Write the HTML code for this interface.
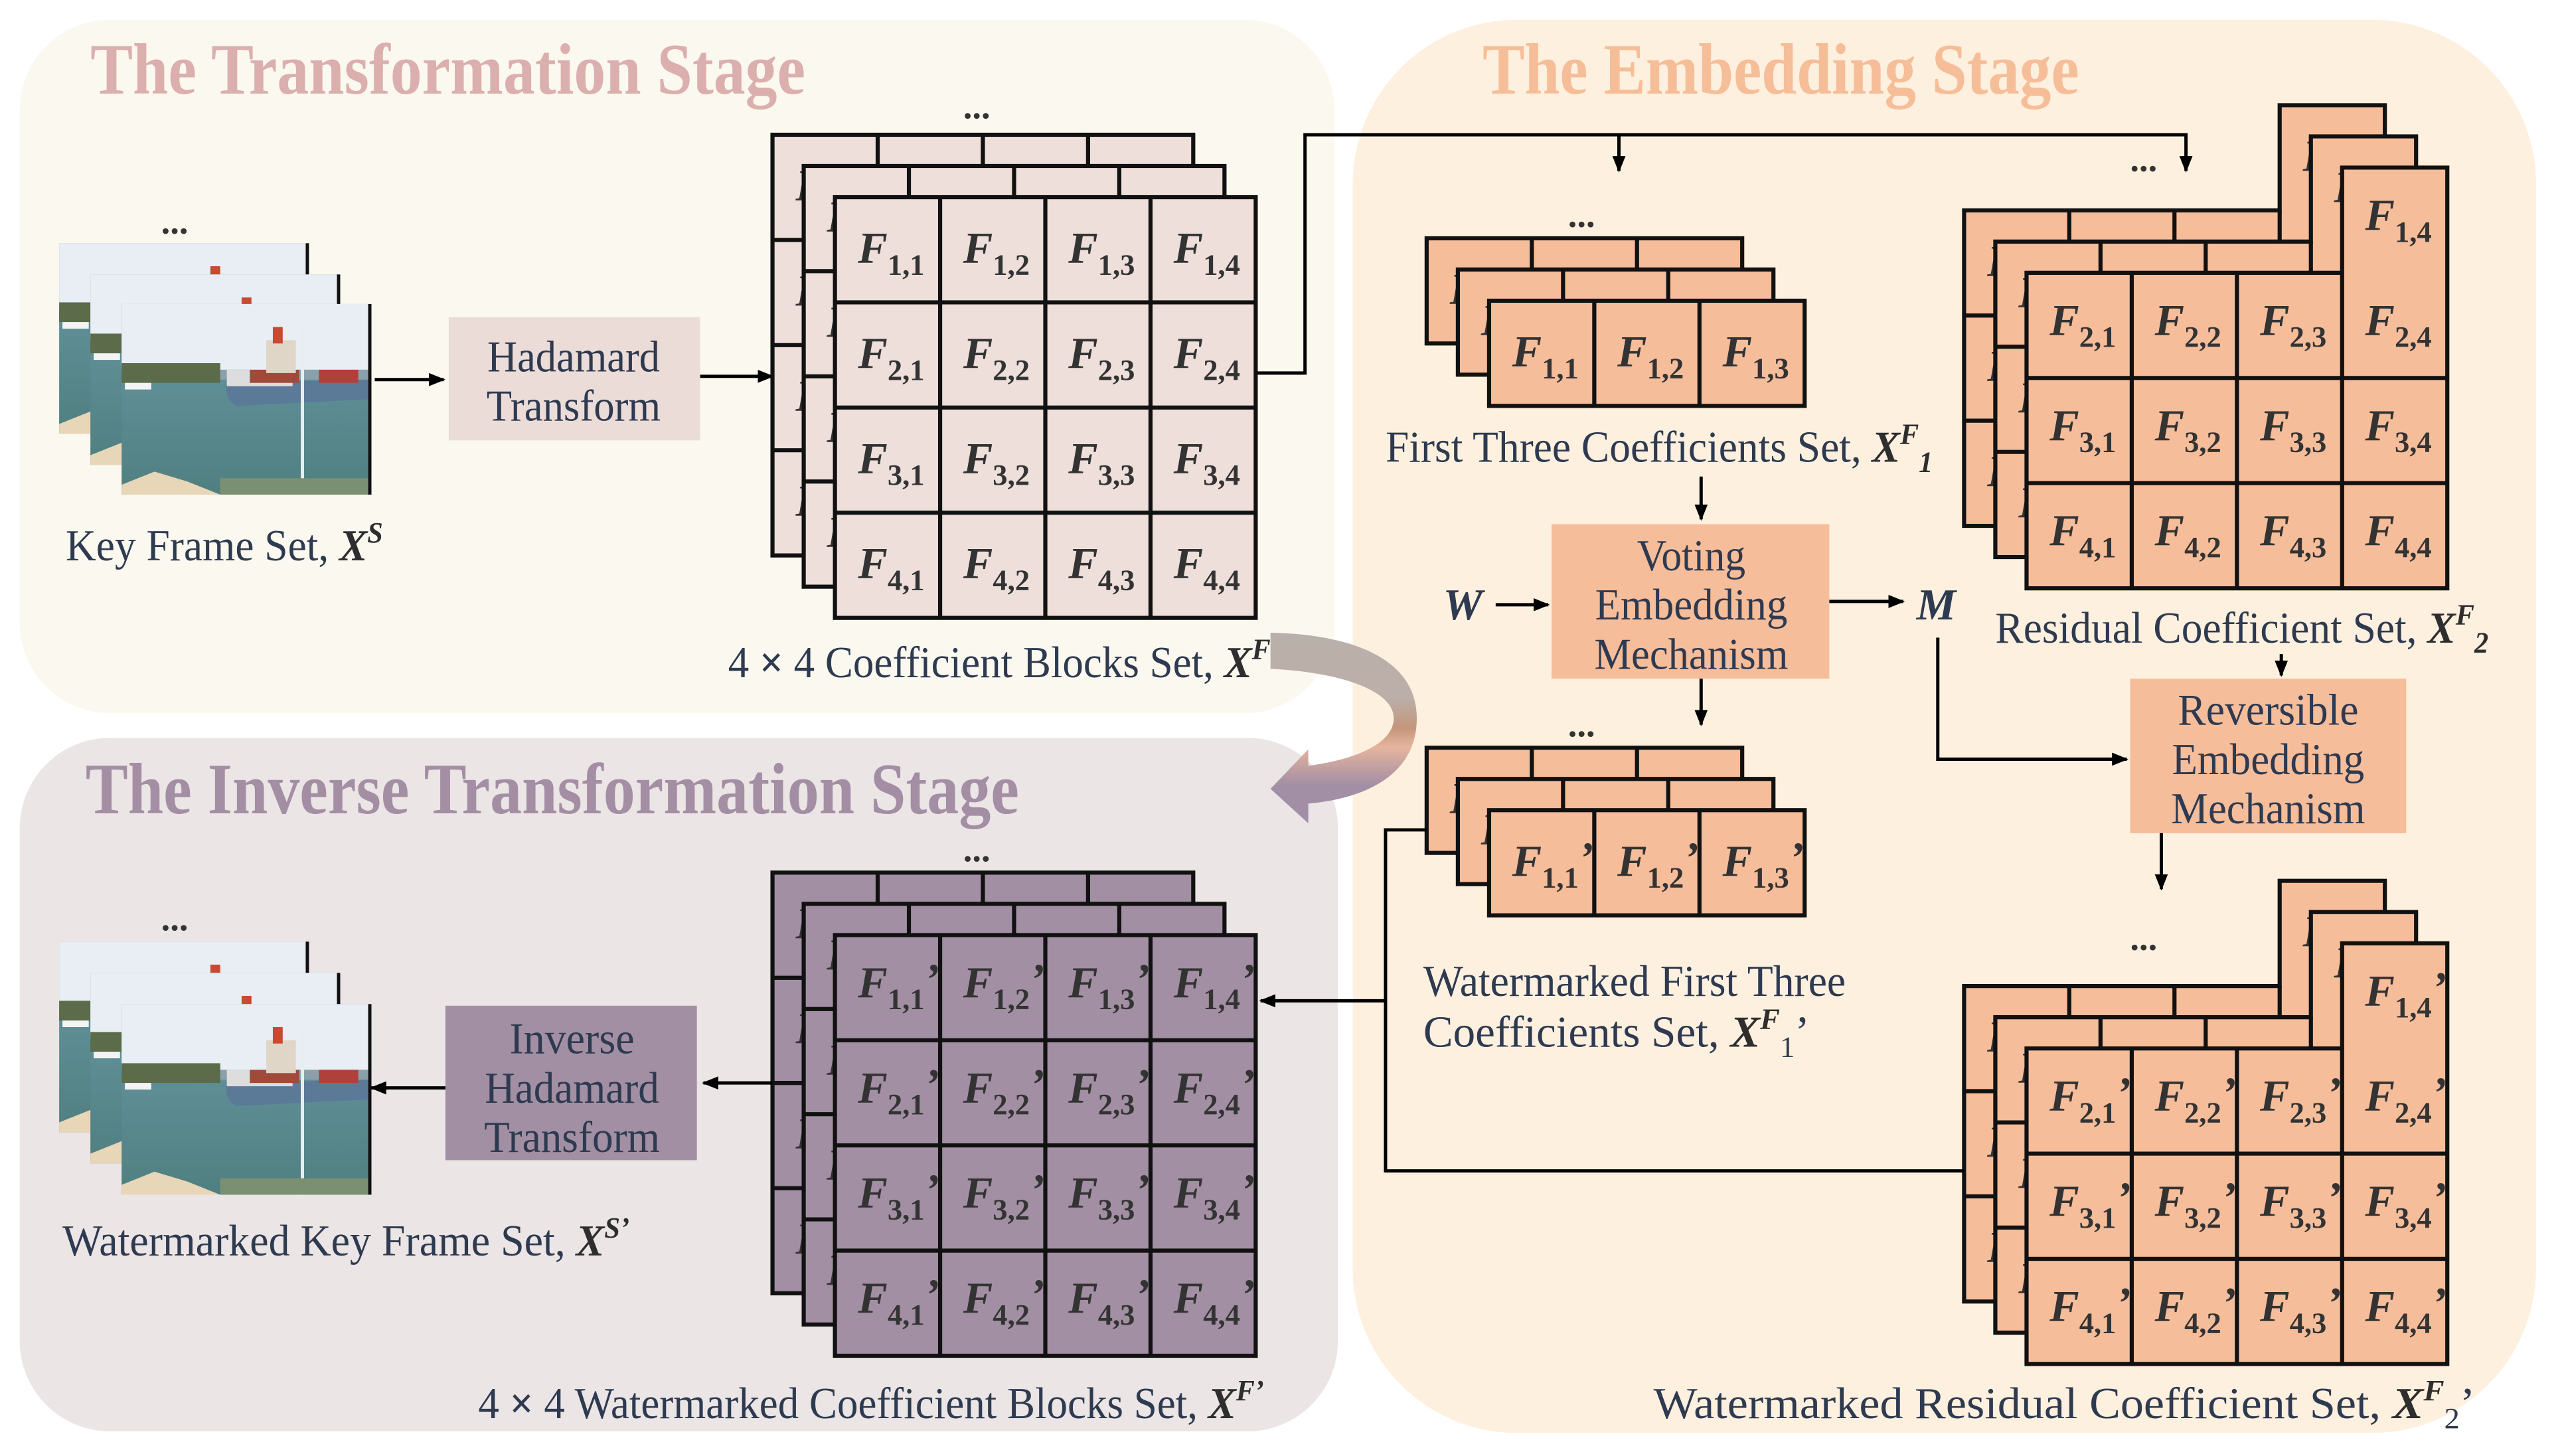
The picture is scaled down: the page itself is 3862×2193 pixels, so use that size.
<!DOCTYPE html>
<html><head><meta charset="utf-8"><style>
html,body{margin:0;padding:0;background:#fff}
svg{display:block}
.f{font-family:"Liberation Serif",serif;font-weight:bold;font-style:italic;font-size:27px;fill:#333}
.s{font-style:normal;font-size:18px}
.l{font-family:"Liberation Serif",serif;font-size:27px;fill:#2e3a50}
.b{font-family:"Liberation Serif",serif;font-size:27px;fill:#2e3a50;text-anchor:middle}
.m{font-weight:bold;font-style:italic;fill:#2e2e2e}
.t{font-family:"Liberation Serif",serif;font-weight:bold;font-size:44px}
.d{font-family:"Liberation Serif",serif;font-weight:bold;font-size:22px;fill:#333}
</style></head><body>
<svg width="3862" height="2193" viewBox="0 0 1560 886" preserveAspectRatio="none" xmlns="http://www.w3.org/2000/svg">
<defs>
<marker id="ah" markerWidth="10" markerHeight="10" refX="9" refY="5" orient="auto" markerUnits="userSpaceOnUse"><path d="M0,1 L10,5 L0,9 z" fill="#000"/></marker>
<linearGradient id="cg" x1="0" y1="385" x2="0" y2="501" gradientUnits="userSpaceOnUse">
<stop offset="0" stop-color="#bab0ab"/><stop offset="0.35" stop-color="#bcaea8"/><stop offset="0.5" stop-color="#c4967a"/><stop offset="0.6" stop-color="#e6b49e"/><stop offset="0.8" stop-color="#a38fa5"/><stop offset="1" stop-color="#a08fa6"/></linearGradient>
<linearGradient id="wat" x1="0" y1="0" x2="0" y2="1"><stop offset="0" stop-color="#6a9aa5"/><stop offset="1" stop-color="#4f7f80"/></linearGradient>
<g id="g4" stroke="#111" stroke-width="2.5"><rect x="0" y="0" width="256" height="256"/><path d="M64 0V256M128 0V256M192 0V256M0 64H256M0 128H256M0 192H256" fill="none"/></g>
<g id="g3" stroke="#111" stroke-width="2.5"><rect x="0" y="0" width="192" height="64"/><path d="M64 0V64M128 0V64" fill="none"/></g>
<g id="gR" stroke="#111" stroke-width="2.5"><path d="M192 0H256V256H0V64H192Z"/><path d="M64 64V256M128 64V256M192 64V256M0 128H256M0 192H256" fill="none"/></g>
<g id="ph">
<rect x="0" y="0" width="150" height="116" fill="url(#wat)"/>
<rect x="0" y="0" width="150" height="40" fill="#e8eef4"/>
<rect x="0" y="36" width="60" height="12" fill="#5c6b4a"/>
<rect x="60" y="40" width="90" height="6" fill="#8aa0aa"/>
<path d="M64 48 L150 46 L150 58 L70 62 Q62 58 64 48Z" fill="#5a7a98"/>
<rect x="64" y="40" width="40" height="10" fill="#ddd"/>
<rect x="78" y="40" width="30" height="8" fill="#a04a3a"/>
<rect x="120" y="40" width="24" height="8" fill="#b0403a"/>
<rect x="88" y="22" width="18" height="20" fill="#e0d6c8"/>
<rect x="92" y="14" width="6" height="10" fill="#c84a30"/>
<rect x="2" y="48" width="16" height="4" fill="#f4f4f4"/>
<rect x="109" y="14" width="2" height="102" fill="#e8eef0"/>
<path d="M0 110 L20 102 L40 108 L60 116 L0 116Z" fill="#e8d6b8"/>
<rect x="60" y="106" width="90" height="10" fill="#7a9070"/>
<rect x="150" y="0" width="2" height="116" fill="#111"/>
</g>
</defs>

<rect x="12" y="12" width="800" height="422" rx="55" fill="#fbf8ef"/>
<rect x="823" y="12" width="720" height="860" rx="100" fill="#fef0df"/>
<rect x="12" y="449" width="802" height="422" rx="55" fill="#ebe5e5"/>

<text class="t" x="55" y="57" fill="#dbafae" textLength="435" lengthAdjust="spacingAndGlyphs">The Transformation Stage</text>
<text class="t" x="902" y="57" fill="#f6be98" textLength="363" lengthAdjust="spacingAndGlyphs">The Embedding Stage</text>
<text class="t" x="52" y="495" fill="#a38ea4" textLength="568" lengthAdjust="spacingAndGlyphs">The Inverse Transformation Stage</text>

<path d="M773,385 C825,386 862,402 862,437 C862,472 830,486 796,489 L796,501 L773,480 L796,456 L796,466 C826,462 848,452 848,437 C848,420 815,409 773,407 Z" fill="url(#cg)"/>

<text class="d" x="98" y="142">...</text>
<use href="#ph" x="36" y="148"/><use href="#ph" x="55" y="167"/><use href="#ph" x="74" y="185"/>
<text class="l" x="40" y="341" textLength="193" lengthAdjust="spacingAndGlyphs">Key Frame Set, <tspan class="m">X</tspan><tspan class="m" font-size="18" dy="-11">S</tspan></text>

<rect x="273" y="193" width="153" height="75" fill="#ecdcd8"/>
<text class="b" x="349" y="226" textLength="105" lengthAdjust="spacingAndGlyphs">Hadamard</text><text class="b" x="349" y="256" textLength="106" lengthAdjust="spacingAndGlyphs">Transform</text>
<path d="M228 231H270" stroke="#000" stroke-width="2" marker-end="url(#ah)"/>
<path d="M426 229H470" stroke="#000" stroke-width="2" marker-end="url(#ah)"/>

<text class="d" x="586" y="72">...</text>
<use href="#g4" x="470" y="82" fill="#eedfdb"/>
<g class="f"><text x="484" y="122">F</text><text x="548" y="122">F</text><text x="612" y="122">F</text><text x="676" y="122">F</text><text x="484" y="186">F</text><text x="484" y="250">F</text><text x="484" y="314">F</text></g>
<use href="#g4" x="489" y="101" fill="#eedfdb"/>
<g class="f"><text x="503" y="141">F</text><text x="567" y="141">F</text><text x="631" y="141">F</text><text x="695" y="141">F</text><text x="503" y="205">F</text><text x="503" y="269">F</text><text x="503" y="333">F</text></g>
<use href="#g4" x="508" y="120" fill="#eedfdb"/>
<g class="f">
<text x="522" y="160">F<tspan class="s" dy="7">1,1</tspan></text><text x="586" y="160">F<tspan class="s" dy="7">1,2</tspan></text><text x="650" y="160">F<tspan class="s" dy="7">1,3</tspan></text><text x="714" y="160">F<tspan class="s" dy="7">1,4</tspan></text>
<text x="522" y="224">F<tspan class="s" dy="7">2,1</tspan></text><text x="586" y="224">F<tspan class="s" dy="7">2,2</tspan></text><text x="650" y="224">F<tspan class="s" dy="7">2,3</tspan></text><text x="714" y="224">F<tspan class="s" dy="7">2,4</tspan></text>
<text x="522" y="288">F<tspan class="s" dy="7">3,1</tspan></text><text x="586" y="288">F<tspan class="s" dy="7">3,2</tspan></text><text x="650" y="288">F<tspan class="s" dy="7">3,3</tspan></text><text x="714" y="288">F<tspan class="s" dy="7">3,4</tspan></text>
<text x="522" y="352">F<tspan class="s" dy="7">4,1</tspan></text><text x="586" y="352">F<tspan class="s" dy="7">4,2</tspan></text><text x="650" y="352">F<tspan class="s" dy="7">4,3</tspan></text><text x="714" y="352">F<tspan class="s" dy="7">4,4</tspan></text>
</g>
<text class="l" x="443" y="412" textLength="330" lengthAdjust="spacingAndGlyphs">4 <tspan font-weight="bold">×</tspan> 4 Coefficient Blocks Set, <tspan class="m">X</tspan><tspan class="m" font-size="18" dy="-11">F</tspan></text>

<path d="M765 227H794V82H1330V104" fill="none" stroke="#000" stroke-width="2" marker-end="url(#ah)"/>
<path d="M985 82V104" fill="none" stroke="#000" stroke-width="2" marker-end="url(#ah)"/>

<text class="d" x="954" y="138">...</text>
<use href="#g3" x="868" y="145" fill="#f6bd9a"/>
<g class="f"><text x="882" y="185">F</text><text x="946" y="185">F</text><text x="1010" y="185">F</text></g>
<use href="#g3" x="887" y="164" fill="#f6bd9a"/>
<g class="f"><text x="901" y="204">F</text><text x="965" y="204">F</text><text x="1029" y="204">F</text></g>
<use href="#g3" x="906" y="183" fill="#f6bd9a"/>
<g class="f"><text x="920" y="223">F<tspan class="s" dy="7">1,1</tspan></text><text x="984" y="223">F<tspan class="s" dy="7">1,2</tspan></text><text x="1048" y="223">F<tspan class="s" dy="7">1,3</tspan></text></g>
<text class="l" x="843" y="281" textLength="333" lengthAdjust="spacingAndGlyphs">First Three Coefficients Set, <tspan class="m">X</tspan><tspan class="m" font-size="18" dy="-11">F</tspan><tspan class="m" font-size="18" dy="17">1</tspan></text>

<path d="M1035 290V316" stroke="#000" stroke-width="2" marker-end="url(#ah)"/>
<rect x="944" y="319" width="169" height="94" fill="#f6bd9a"/>
<text class="b" x="1029" y="347" textLength="66" lengthAdjust="spacingAndGlyphs">Voting</text><text class="b" x="1029" y="377" textLength="117" lengthAdjust="spacingAndGlyphs">Embedding</text><text class="b" x="1029" y="407" textLength="118" lengthAdjust="spacingAndGlyphs">Mechanism</text>
<text class="l m" x="878" y="377" style="fill:#2e3a50">W</text>
<path d="M910 368H942" stroke="#000" stroke-width="2" marker-end="url(#ah)"/>
<path d="M1113 366H1158" stroke="#000" stroke-width="2" marker-end="url(#ah)"/>
<text class="l m" x="1166" y="377" style="fill:#2e3a50">M</text>
<path d="M1035 413V441" stroke="#000" stroke-width="2" marker-end="url(#ah)"/>
<path d="M1179 388V462H1294" fill="none" stroke="#000" stroke-width="2" marker-end="url(#ah)"/>

<text class="d" x="954" y="448">...</text>
<use href="#g3" x="868" y="455" fill="#f6bd9a"/>
<g class="f"><text x="882" y="495">F ’</text><text x="946" y="495">F ’</text><text x="1010" y="495">F ’</text></g>
<use href="#g3" x="887" y="474" fill="#f6bd9a"/>
<g class="f"><text x="901" y="514">F ’</text><text x="965" y="514">F ’</text><text x="1029" y="514">F ’</text></g>
<use href="#g3" x="906" y="493" fill="#f6bd9a"/>
<g class="f"><text x="920" y="533">F<tspan class="s" dy="7">1,1</tspan><tspan dy="-9">’</tspan></text><text x="984" y="533">F<tspan class="s" dy="7">1,2</tspan><tspan dy="-9">’</tspan></text><text x="1048" y="533">F<tspan class="s" dy="7">1,3</tspan><tspan dy="-9">’</tspan></text></g>
<text class="l" x="866" y="606" textLength="257" lengthAdjust="spacingAndGlyphs">Watermarked First Three</text>
<text class="l" x="866" y="637" textLength="235" lengthAdjust="spacingAndGlyphs">Coefficients Set, <tspan class="m">X</tspan><tspan class="m" font-size="18" dy="-11">F</tspan><tspan font-size="18" dy="17">1</tspan><tspan dy="-6">’</tspan></text>

<text class="d" x="1296" y="104">...</text>
<use href="#gR" x="1195" y="64" fill="#f6bd9a"/>
<g class="f"><text x="1401" y="104">F</text><text x="1209" y="168">F</text><text x="1273" y="168">F</text><text x="1337" y="168">F</text><text x="1209" y="232">F</text><text x="1209" y="296">F</text></g>
<use href="#gR" x="1214" y="83" fill="#f6bd9a"/>
<g class="f"><text x="1420" y="123">F</text><text x="1228" y="187">F</text><text x="1292" y="187">F</text><text x="1356" y="187">F</text><text x="1228" y="251">F</text><text x="1228" y="315">F</text></g>
<use href="#gR" x="1233" y="102" fill="#f6bd9a"/>
<g class="f">
<text x="1439" y="140">F<tspan class="s" dy="7">1,4</tspan></text>
<text x="1247" y="204">F<tspan class="s" dy="7">2,1</tspan></text><text x="1311" y="204">F<tspan class="s" dy="7">2,2</tspan></text><text x="1375" y="204">F<tspan class="s" dy="7">2,3</tspan></text><text x="1439" y="204">F<tspan class="s" dy="7">2,4</tspan></text>
<text x="1247" y="268">F<tspan class="s" dy="7">3,1</tspan></text><text x="1311" y="268">F<tspan class="s" dy="7">3,2</tspan></text><text x="1375" y="268">F<tspan class="s" dy="7">3,3</tspan></text><text x="1439" y="268">F<tspan class="s" dy="7">3,4</tspan></text>
<text x="1247" y="332">F<tspan class="s" dy="7">4,1</tspan></text><text x="1311" y="332">F<tspan class="s" dy="7">4,2</tspan></text><text x="1375" y="332">F<tspan class="s" dy="7">4,3</tspan></text><text x="1439" y="332">F<tspan class="s" dy="7">4,4</tspan></text>
</g>
<text class="l" x="1214" y="391" textLength="300" lengthAdjust="spacingAndGlyphs">Residual Coefficient Set, <tspan class="m">X</tspan><tspan class="m" font-size="18" dy="-11">F</tspan><tspan class="m" font-size="18" dy="17">2</tspan></text>
<path d="M1388 398V411" stroke="#000" stroke-width="2" marker-end="url(#ah)"/>
<rect x="1296" y="413" width="168" height="94" fill="#f6bd9a"/>
<text class="b" x="1380" y="441" textLength="110" lengthAdjust="spacingAndGlyphs">Reversible</text><text class="b" x="1380" y="471" textLength="117" lengthAdjust="spacingAndGlyphs">Embedding</text><text class="b" x="1380" y="501" textLength="118" lengthAdjust="spacingAndGlyphs">Mechanism</text>
<path d="M1315 507V541" stroke="#000" stroke-width="2" marker-end="url(#ah)"/>

<text class="d" x="1296" y="578">...</text>
<use href="#gR" x="1195" y="536" fill="#f6bd9a"/>
<g class="f"><text x="1401" y="576">F ’</text><text x="1209" y="640">F ’</text><text x="1273" y="640">F ’</text><text x="1337" y="640">F ’</text><text x="1209" y="704">F</text><text x="1209" y="768">F</text></g>
<use href="#gR" x="1214" y="555" fill="#f6bd9a"/>
<g class="f"><text x="1420" y="595">F ’</text><text x="1228" y="659">F ’</text><text x="1292" y="659">F ’</text><text x="1356" y="659">F ’</text><text x="1228" y="723">F</text><text x="1228" y="787">F</text></g>
<use href="#gR" x="1233" y="574" fill="#f6bd9a"/>
<g class="f">
<text x="1439" y="612">F<tspan class="s" dy="7">1,4</tspan><tspan dy="-9">’</tspan></text>
<text x="1247" y="676">F<tspan class="s" dy="7">2,1</tspan><tspan dy="-9">’</tspan></text><text x="1311" y="676">F<tspan class="s" dy="7">2,2</tspan><tspan dy="-9">’</tspan></text><text x="1375" y="676">F<tspan class="s" dy="7">2,3</tspan><tspan dy="-9">’</tspan></text><text x="1439" y="676">F<tspan class="s" dy="7">2,4</tspan><tspan dy="-9">’</tspan></text>
<text x="1247" y="740">F<tspan class="s" dy="7">3,1</tspan><tspan dy="-9">’</tspan></text><text x="1311" y="740">F<tspan class="s" dy="7">3,2</tspan><tspan dy="-9">’</tspan></text><text x="1375" y="740">F<tspan class="s" dy="7">3,3</tspan><tspan dy="-9">’</tspan></text><text x="1439" y="740">F<tspan class="s" dy="7">3,4</tspan><tspan dy="-9">’</tspan></text>
<text x="1247" y="804">F<tspan class="s" dy="7">4,1</tspan><tspan dy="-9">’</tspan></text><text x="1311" y="804">F<tspan class="s" dy="7">4,2</tspan><tspan dy="-9">’</tspan></text><text x="1375" y="804">F<tspan class="s" dy="7">4,3</tspan><tspan dy="-9">’</tspan></text><text x="1439" y="804">F<tspan class="s" dy="7">4,4</tspan><tspan dy="-9">’</tspan></text>
</g>
<text class="l" x="1006" y="863" textLength="500" lengthAdjust="spacingAndGlyphs">Watermarked Residual Coefficient Set, <tspan class="m">X</tspan><tspan class="m" font-size="18" dy="-11">F</tspan><tspan font-size="18" dy="17">2</tspan><tspan dy="-6">’</tspan></text>

<path d="M1195 712.5H843V505H868" fill="none" stroke="#000" stroke-width="2"/>
<path d="M843 609H767" fill="none" stroke="#000" stroke-width="2" marker-end="url(#ah)"/>

<text class="d" x="586" y="524">...</text>
<use href="#g4" x="470" y="531" fill="#a38fa3"/>
<g class="f"><text x="484" y="571">F ’</text><text x="548" y="571">F ’</text><text x="612" y="571">F ’</text><text x="676" y="571">F ’</text><text x="484" y="635">F</text><text x="484" y="699">F</text><text x="484" y="763">F</text></g>
<use href="#g4" x="489" y="550" fill="#a38fa3"/>
<g class="f"><text x="503" y="590">F ’</text><text x="567" y="590">F ’</text><text x="631" y="590">F ’</text><text x="695" y="590">F ’</text><text x="503" y="654">F</text><text x="503" y="718">F</text><text x="503" y="782">F</text></g>
<use href="#g4" x="508" y="569" fill="#a38fa3"/>
<g class="f">
<text x="522" y="607">F<tspan class="s" dy="7">1,1</tspan><tspan dy="-9">’</tspan></text><text x="586" y="607">F<tspan class="s" dy="7">1,2</tspan><tspan dy="-9">’</tspan></text><text x="650" y="607">F<tspan class="s" dy="7">1,3</tspan><tspan dy="-9">’</tspan></text><text x="714" y="607">F<tspan class="s" dy="7">1,4</tspan><tspan dy="-9">’</tspan></text>
<text x="522" y="671">F<tspan class="s" dy="7">2,1</tspan><tspan dy="-9">’</tspan></text><text x="586" y="671">F<tspan class="s" dy="7">2,2</tspan><tspan dy="-9">’</tspan></text><text x="650" y="671">F<tspan class="s" dy="7">2,3</tspan><tspan dy="-9">’</tspan></text><text x="714" y="671">F<tspan class="s" dy="7">2,4</tspan><tspan dy="-9">’</tspan></text>
<text x="522" y="735">F<tspan class="s" dy="7">3,1</tspan><tspan dy="-9">’</tspan></text><text x="586" y="735">F<tspan class="s" dy="7">3,2</tspan><tspan dy="-9">’</tspan></text><text x="650" y="735">F<tspan class="s" dy="7">3,3</tspan><tspan dy="-9">’</tspan></text><text x="714" y="735">F<tspan class="s" dy="7">3,4</tspan><tspan dy="-9">’</tspan></text>
<text x="522" y="799">F<tspan class="s" dy="7">4,1</tspan><tspan dy="-9">’</tspan></text><text x="586" y="799">F<tspan class="s" dy="7">4,2</tspan><tspan dy="-9">’</tspan></text><text x="650" y="799">F<tspan class="s" dy="7">4,3</tspan><tspan dy="-9">’</tspan></text><text x="714" y="799">F<tspan class="s" dy="7">4,4</tspan><tspan dy="-9">’</tspan></text>
</g>
<text class="l" x="291" y="863" textLength="478" lengthAdjust="spacingAndGlyphs">4 <tspan font-weight="bold">×</tspan> 4 Watermarked Coefficient Blocks Set, <tspan class="m">X</tspan><tspan class="m" font-size="18" dy="-11">F’</tspan></text>

<path d="M470 659H428" stroke="#000" stroke-width="2" marker-end="url(#ah)"/>
<rect x="271" y="612" width="153" height="94" fill="#a38fa3"/>
<text class="b" x="348" y="641" textLength="76" lengthAdjust="spacingAndGlyphs">Inverse</text><text class="b" x="348" y="671" textLength="106" lengthAdjust="spacingAndGlyphs">Hadamard</text><text class="b" x="348" y="701" textLength="107" lengthAdjust="spacingAndGlyphs">Transform</text>
<path d="M271 662H226" stroke="#000" stroke-width="2" marker-end="url(#ah)"/>

<text class="d" x="98" y="566">...</text>
<use href="#ph" x="36" y="573"/><use href="#ph" x="55" y="592"/><use href="#ph" x="74" y="611"/>
<text class="l" x="38" y="764" textLength="345" lengthAdjust="spacingAndGlyphs">Watermarked Key Frame Set, <tspan class="m">X</tspan><tspan class="m" font-size="18" dy="-11">S’</tspan></text>
</svg>
</body></html>
